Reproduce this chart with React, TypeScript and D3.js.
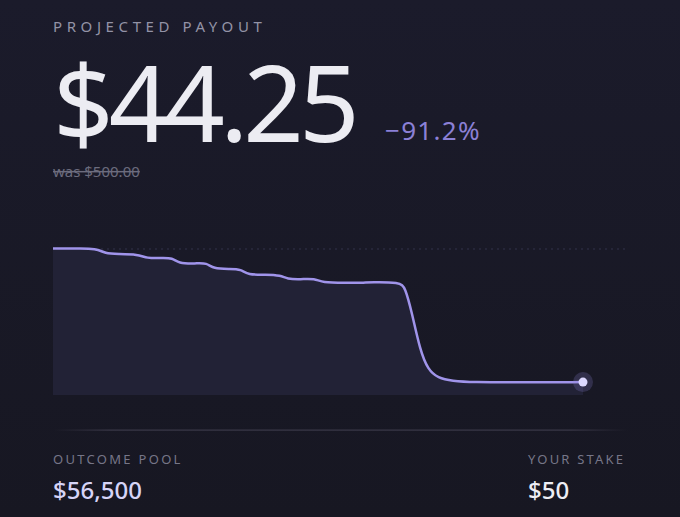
import React from "react";
import * as d3 from "d3";

const times = [0, 4, 8.8, 10.4, 13, 17, 18.8, 21.5, 24, 25, 28.5, 30.8, 32, 35.5, 37.6, 39, 42.5, 45.6, 46.8, 49.5, 52.4, 53.8, 58.5, 62, 63.5, 69.4, 70.4, 71.8, 73.4, 75, 77, 79.8, 84, 93, 106];
const payouts = [502, 501, 503, 484, 483, 482, 468, 469, 470, 451, 450, 453, 432, 432, 431, 411, 413, 410, 397, 396, 399, 385, 384, 384, 387, 386, 370, 281, 154, 86, 58, 48, 43.5, 43, 44.25];
const timeDomain = [0, 115];
const valueDomain = [0, 500];
const originalPayout = 500;

const title = "PROJECTED PAYOUT";
const payoutLabel = "$44.25";
const changeLabel = "\u221291.2%";
const wasLabel = "was $500.00";
const poolTitle = "OUTCOME POOL";
const poolValue = "$56,500";
const stakeTitle = "YOUR STAKE";
const stakeValue = "$50";

export default function App() {
  const W = 680, H = 517;
  const x = d3.scaleLinear().domain(timeDomain).range([53, 628]);
  const y = d3.scaleLinear().domain(valueDomain).range([395, 249]);
  const data = times.map((t, i) => ({ t, v: payouts[i] }));
  const line = d3.line<any>().x(d => x(d.t)).y(d => y(d.v)).curve(d3.curveBasis);
  const area = d3.area<any>().x(d => x(d.t)).y0(y(0)).y1(d => y(d.v)).curve(d3.curveBasis);
  const last = data[data.length - 1];
  const font = "'Noto Sans', 'Open Sans', sans-serif";

  return (
    <svg width={W} height={H} style={{ position: "absolute", left: 0, top: 0, display: "block" }} fontFamily={font}>
      <defs>
        <linearGradient id="bg" x1="0" y1="0" x2="0" y2="1">
          <stop offset="0" stopColor="#1b1b2b" />
          <stop offset="1" stopColor="#171722" />
        </linearGradient>
        <linearGradient id="sep" x1="0" y1="0" x2="1" y2="0">
          <stop offset="0" stopColor="#3a3848" stopOpacity="0" />
          <stop offset="0.1" stopColor="#3a3848" stopOpacity="1" />
          <stop offset="0.9" stopColor="#3a3848" stopOpacity="1" />
          <stop offset="1" stopColor="#3a3848" stopOpacity="0" />
        </linearGradient>
      </defs>
      <rect width={W} height={H} fill="url(#bg)" />

      <text x={53} y={32} fontSize={15} letterSpacing={4.6} fill="#9393a6">{title}</text>
      <text x={53} y={141.5} fontSize={106} letterSpacing={-5} fill="#ececf2">{payoutLabel}</text>
      <text x={385} y={140} fontSize={26} letterSpacing={1.3} fill="#8b80d6">{changeLabel}</text>
      <text x={53} y={177} fontSize={15} fill="#6c6c7e" style={{ textDecoration: "line-through" }}>{wasLabel}</text>

      <line x1={x(timeDomain[0])} x2={x(timeDomain[1])} y1={y(originalPayout)} y2={y(originalPayout)}
        stroke="#33334a" strokeWidth={1.2} strokeDasharray="2 4" />
      <path d={area(data) || ""} fill="#222236" />
      <path d={line(data) || ""} fill="none" stroke="#a094ea" strokeWidth={2.5} />
      <circle cx={x(last.t)} cy={y(last.v)} r={10} fill="#8d82d8" opacity={0.22} />
      <circle cx={x(last.t)} cy={y(last.v)} r={4.5} fill="#dcd8ff" />

      <rect x={53} y={429.5} width={575} height={1.2} fill="url(#sep)" />

      <text x={53} y={464} fontSize={13} letterSpacing={2.3} fill="#767688">{poolTitle}</text>
      <text x={53} y={499} fontSize={24} fontWeight={500} fill="#d6d4f7">{poolValue}</text>
      <text x={528} y={464} fontSize={13} letterSpacing={2.2} fill="#767688">{stakeTitle}</text>
      <text x={528} y={499} fontSize={24} fontWeight={500} fill="#eeeef5">{stakeValue}</text>
    </svg>
  );
}
